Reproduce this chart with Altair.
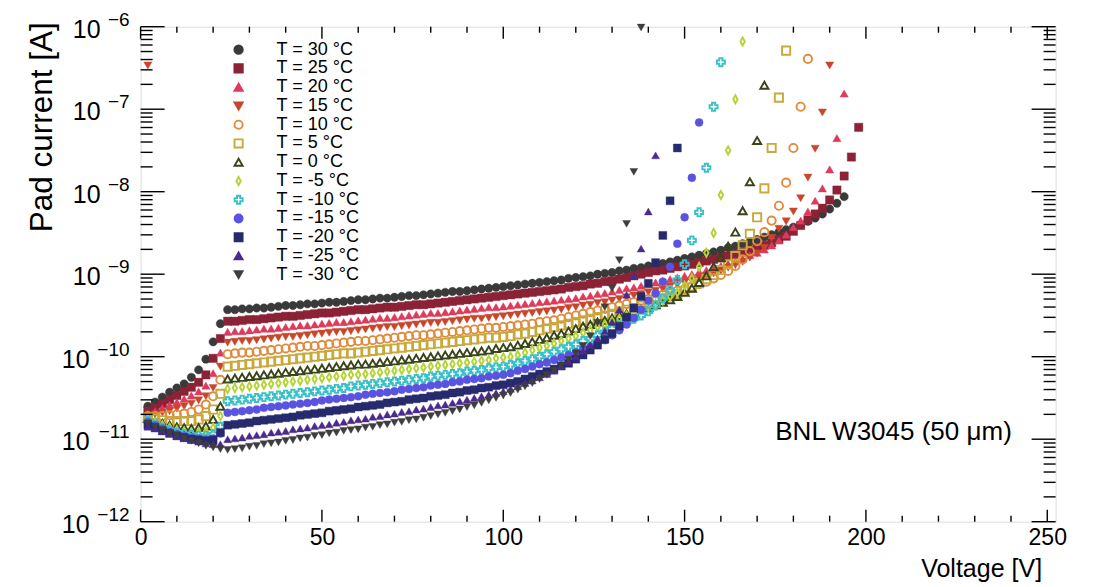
import altair as alt
import pandas as pd

FONT = "Liberation Sans"
W, H = 915, 495

# ---------------- data (log10 of pad current [A]) ----------------
VOLTS = [2, 4, 6, 8, 10, 12, 14, 16, 18, 20, 22, 24, 26, 28, 30, 32, 34, 36, 38, 40,
         42, 44, 46, 48, 50, 52, 54, 56, 58, 60, 62, 64, 66, 68, 70, 72, 74, 76, 78, 80,
         82, 84, 86, 88, 90, 92, 94, 96, 98, 100, 102, 104, 106, 108, 110, 112, 114, 116, 118, 120,
         122, 124, 126, 128, 130, 132, 134, 136, 138, 140, 142, 144, 146, 148, 150, 152, 154, 156, 158, 160,
         162, 164, 166, 168, 170, 172, 174, 176, 178, 180, 182, 184, 186, 188, 190, 192, 194, 196, 198]

SERIES = ["T = 30 °C", "T = 25 °C", "T = 20 °C", "T = 15 °C", "T = 10 °C", "T = 5 °C", "T = 0 °C",
          "T = -5 °C", "T = -10 °C", "T = -15 °C", "T = -20 °C", "T = -25 °C", "T = -30 °C"]

LOG_I_P30 = [-10.60, -10.55, -10.49, -10.43, -10.38, -10.33, -10.25, -10.16, -10.03, -9.82, -9.60,
             -9.43, -9.43, -9.42, -9.42, -9.41, -9.41, -9.40, -9.39, -9.38, -9.38,
             -9.37, -9.36, -9.36, -9.35, -9.34, -9.34, -9.33, -9.32, -9.31, -9.31,
             -9.30, -9.29, -9.29, -9.28, -9.27, -9.26, -9.26, -9.25, -9.24, -9.23,
             -9.22, -9.21, -9.21, -9.20, -9.19, -9.18, -9.17, -9.16, -9.15, -9.14,
             -9.13, -9.12, -9.11, -9.10, -9.09, -9.08, -9.07, -9.05, -9.04, -9.03,
             -9.02, -9.00, -8.99, -8.98, -8.96, -8.95, -8.93, -8.92, -8.90, -8.89,
             -8.87, -8.85, -8.83, -8.81, -8.79, -8.77, -8.75, -8.73, -8.71, -8.68,
             -8.66, -8.63, -8.61, -8.58, -8.55, -8.52, -8.49, -8.46, -8.43, -8.40,
             -8.36, -8.32, -8.27, -8.21, -8.14, -8.06]
LOG_I_P25 = [-10.66, -10.62, -10.57, -10.52, -10.47, -10.42, -10.37, -10.31, -10.22, -10.02, -9.78,
             -9.57, -9.57, -9.56, -9.55, -9.55, -9.54, -9.53, -9.52, -9.51, -9.51,
             -9.50, -9.49, -9.48, -9.47, -9.47, -9.46, -9.45, -9.44, -9.43, -9.43,
             -9.42, -9.41, -9.40, -9.40, -9.39, -9.38, -9.37, -9.37, -9.36, -9.35,
             -9.34, -9.33, -9.32, -9.31, -9.30, -9.29, -9.28, -9.27, -9.26, -9.25,
             -9.24, -9.23, -9.22, -9.21, -9.20, -9.19, -9.18, -9.16, -9.15, -9.14,
             -9.12, -9.11, -9.09, -9.08, -9.06, -9.04, -9.02, -9.00, -8.98, -8.96,
             -8.95, -8.93, -8.91, -8.90, -8.88, -8.86, -8.84, -8.82, -8.80, -8.78,
             -8.76, -8.73, -8.71, -8.68, -8.65, -8.62, -8.58, -8.54, -8.48, -8.41,
             -8.34, -8.27, -8.20, -8.10, -7.98, -7.81, -7.58, -7.22]
LOG_I_P20 = [-10.69, -10.66, -10.62, -10.58, -10.55, -10.51, -10.47, -10.42, -10.35, -10.20, -9.95,
             -9.70, -9.69, -9.69, -9.68, -9.67, -9.66, -9.66, -9.65, -9.64, -9.63,
             -9.62, -9.62, -9.61, -9.60, -9.59, -9.58, -9.58, -9.57, -9.56, -9.55,
             -9.54, -9.53, -9.53, -9.52, -9.51, -9.50, -9.49, -9.48, -9.47, -9.47,
             -9.46, -9.45, -9.44, -9.43, -9.42, -9.41, -9.40, -9.40, -9.39, -9.38,
             -9.37, -9.36, -9.35, -9.34, -9.33, -9.32, -9.31, -9.30, -9.29, -9.27,
             -9.26, -9.24, -9.23, -9.21, -9.19, -9.17, -9.16, -9.14, -9.12, -9.10,
             -9.08, -9.06, -9.04, -9.02, -9.00, -8.97, -8.95, -8.93, -8.90, -8.87,
             -8.84, -8.81, -8.77, -8.74, -8.70, -8.65, -8.59, -8.52, -8.43, -8.35,
             -8.24, -8.11, -7.96, -7.73, -7.35, -6.81]
LOG_I_P15 = [-6.47, -10.70, -10.68, -10.66, -10.63, -10.60, -10.57, -10.53, -10.48, -10.38, -10.12,
             -9.83, -9.82, -9.81, -9.81, -9.80, -9.79, -9.78, -9.77, -9.76, -9.76,
             -9.75, -9.74, -9.73, -9.72, -9.71, -9.70, -9.70, -9.69, -9.68, -9.67,
             -9.66, -9.65, -9.64, -9.64, -9.63, -9.62, -9.61, -9.60, -9.59, -9.59,
             -9.58, -9.57, -9.56, -9.55, -9.54, -9.54, -9.53, -9.52, -9.51, -9.50,
             -9.49, -9.48, -9.47, -9.46, -9.45, -9.44, -9.43, -9.41, -9.40, -9.38,
             -9.37, -9.35, -9.34, -9.32, -9.30, -9.28, -9.26, -9.24, -9.22, -9.20,
             -9.18, -9.15, -9.13, -9.10, -9.08, -9.05, -9.02, -8.99, -8.96, -8.92,
             -8.89, -8.85, -8.80, -8.75, -8.68, -8.56, -8.45, -8.36, -8.24, -8.08,
             -7.83, -7.48, -7.04, -6.47]
LOG_I_P10 = [-10.72, -10.72, -10.72, -10.71, -10.70, -10.69, -10.67, -10.64, -10.58, -10.48, -10.28,
             -9.97, -9.96, -9.95, -9.95, -9.94, -9.93, -9.92, -9.91, -9.90, -9.89,
             -9.88, -9.87, -9.87, -9.86, -9.85, -9.84, -9.83, -9.82, -9.81, -9.81,
             -9.80, -9.79, -9.78, -9.77, -9.76, -9.75, -9.74, -9.74, -9.73, -9.72,
             -9.71, -9.70, -9.69, -9.68, -9.67, -9.66, -9.65, -9.65, -9.64, -9.63,
             -9.62, -9.61, -9.60, -9.58, -9.57, -9.56, -9.54, -9.52, -9.50, -9.48,
             -9.46, -9.44, -9.42, -9.40, -9.38, -9.36, -9.34, -9.32, -9.30, -9.28,
             -9.25, -9.23, -9.20, -9.18, -9.15, -9.12, -9.09, -9.05, -9.01, -8.96,
             -8.90, -8.82, -8.72, -8.60, -8.49, -8.35, -8.17, -7.89, -7.47, -6.97,
             -6.39]
LOG_I_P5 = [-10.74, -10.75, -10.77, -10.78, -10.78, -10.78, -10.78, -10.76, -10.72, -10.64, -10.45,
            -10.12, -10.11, -10.10, -10.09, -10.08, -10.07, -10.06, -10.05, -10.04, -10.03,
            -10.02, -10.01, -10.00, -9.99, -9.98, -9.97, -9.96, -9.96, -9.95, -9.94,
            -9.93, -9.92, -9.91, -9.90, -9.89, -9.88, -9.87, -9.86, -9.85, -9.84,
            -9.83, -9.82, -9.81, -9.80, -9.79, -9.78, -9.77, -9.77, -9.76, -9.75,
            -9.73, -9.72, -9.70, -9.68, -9.66, -9.64, -9.62, -9.60, -9.58, -9.56,
            -9.54, -9.52, -9.50, -9.48, -9.45, -9.43, -9.41, -9.38, -9.36, -9.33,
            -9.30, -9.27, -9.24, -9.20, -9.16, -9.11, -9.06, -9.01, -8.95, -8.88,
            -8.78, -8.65, -8.51, -8.31, -7.96, -7.47, -6.86, -6.29]
LOG_I_0 = [-10.75, -10.78, -10.81, -10.83, -10.85, -10.86, -10.87, -10.86, -10.84, -10.76, -10.60,
           -10.27, -10.26, -10.25, -10.24, -10.23, -10.22, -10.21, -10.20, -10.19, -10.18,
           -10.17, -10.16, -10.15, -10.14, -10.13, -10.12, -10.11, -10.10, -10.09, -10.09,
           -10.08, -10.07, -10.06, -10.05, -10.04, -10.03, -10.02, -10.01, -10.00, -9.99,
           -9.98, -9.97, -9.96, -9.95, -9.94, -9.93, -9.92, -9.90, -9.89, -9.88,
           -9.86, -9.84, -9.82, -9.79, -9.77, -9.74, -9.72, -9.69, -9.66, -9.63,
           -9.61, -9.58, -9.56, -9.53, -9.50, -9.48, -9.45, -9.42, -9.40, -9.37,
           -9.34, -9.31, -9.27, -9.22, -9.17, -9.10, -9.02, -8.91, -8.80, -8.66,
           -8.49, -8.23, -7.88, -7.38, -6.71]
LOG_I_M5 = [-10.75, -10.79, -10.83, -10.86, -10.89, -10.91, -10.92, -10.92, -10.91, -10.86, -10.72,
            -10.39, -10.38, -10.37, -10.36, -10.35, -10.34, -10.33, -10.32, -10.31, -10.30,
            -10.29, -10.28, -10.27, -10.26, -10.25, -10.24, -10.23, -10.22, -10.22, -10.21,
            -10.20, -10.19, -10.18, -10.17, -10.16, -10.15, -10.14, -10.13, -10.12, -10.11,
            -10.10, -10.09, -10.08, -10.07, -10.06, -10.05, -10.04, -10.02, -10.01, -10.00,
            -9.98, -9.95, -9.92, -9.89, -9.87, -9.84, -9.81, -9.78, -9.75, -9.71,
            -9.68, -9.64, -9.61, -9.57, -9.54, -9.50, -9.47, -9.43, -9.40, -9.36,
            -9.32, -9.27, -9.22, -9.14, -9.05, -8.91, -8.74, -8.50, -8.04, -7.50,
            -6.88, -6.18]
LOG_I_M10 = [-10.78, -10.82, -10.86, -10.89, -10.92, -10.94, -10.95, -10.96, -10.96, -10.94, -10.85,
             -10.54, -10.53, -10.52, -10.51, -10.50, -10.49, -10.48, -10.47, -10.46, -10.45,
             -10.44, -10.43, -10.42, -10.41, -10.40, -10.39, -10.38, -10.36, -10.35, -10.34,
             -10.33, -10.32, -10.31, -10.30, -10.29, -10.28, -10.27, -10.26, -10.24, -10.23,
             -10.22, -10.21, -10.20, -10.18, -10.17, -10.16, -10.14, -10.13, -10.12, -10.10,
             -10.08, -10.05, -10.03, -10.00, -9.97, -9.94, -9.91, -9.88, -9.85, -9.81,
             -9.78, -9.74, -9.70, -9.66, -9.62, -9.58, -9.54, -9.50, -9.45, -9.38,
             -9.29, -9.19, -9.07, -8.88, -8.59, -8.25, -7.71, -6.97, -6.43]
LOG_I_M15 = [-10.79, -10.83, -10.87, -10.91, -10.94, -10.96, -10.98, -10.99, -11.00, -10.99, -10.93,
             -10.68, -10.67, -10.66, -10.65, -10.64, -10.62, -10.61, -10.60, -10.59, -10.58,
             -10.57, -10.56, -10.55, -10.53, -10.52, -10.51, -10.50, -10.49, -10.48, -10.46,
             -10.45, -10.44, -10.43, -10.42, -10.40, -10.39, -10.38, -10.37, -10.35, -10.34,
             -10.33, -10.31, -10.30, -10.28, -10.27, -10.26, -10.24, -10.23, -10.22, -10.20,
             -10.17, -10.15, -10.12, -10.09, -10.07, -10.04, -10.01, -9.98, -9.95, -9.91,
             -9.88, -9.84, -9.80, -9.74, -9.68, -9.61, -9.53, -9.43, -9.32, -9.23,
             -9.09, -8.91, -8.63, -8.31, -7.83, -7.16]
LOG_I_M20 = [-10.83, -10.86, -10.90, -10.93, -10.96, -10.98, -11.00, -11.01, -11.02, -11.01, -10.92,
             -10.83, -10.82, -10.81, -10.80, -10.78, -10.77, -10.76, -10.75, -10.74, -10.73,
             -10.71, -10.70, -10.69, -10.68, -10.66, -10.65, -10.64, -10.63, -10.61, -10.60,
             -10.59, -10.58, -10.56, -10.55, -10.54, -10.52, -10.51, -10.50, -10.48, -10.47,
             -10.46, -10.44, -10.43, -10.41, -10.40, -10.38, -10.37, -10.35, -10.34, -10.32,
             -10.30, -10.27, -10.24, -10.21, -10.18, -10.15, -10.11, -10.08, -10.03, -9.98,
             -9.92, -9.86, -9.79, -9.72, -9.63, -9.52, -9.41, -9.27, -9.11, -8.86,
             -8.53, -8.11, -7.47]
LOG_I_M25 = [-10.85, -10.87, -10.90, -10.93, -10.96, -10.99, -11.01, -11.03, -11.05, -11.06, -11.06,
             -11.00, -10.99, -10.98, -10.96, -10.95, -10.94, -10.92, -10.91, -10.90, -10.88,
             -10.87, -10.86, -10.84, -10.83, -10.82, -10.80, -10.79, -10.77, -10.76, -10.75,
             -10.73, -10.72, -10.70, -10.69, -10.67, -10.66, -10.64, -10.63, -10.61, -10.59,
             -10.58, -10.56, -10.54, -10.52, -10.50, -10.48, -10.46, -10.44, -10.42, -10.39,
             -10.36, -10.32, -10.29, -10.25, -10.21, -10.17, -10.12, -10.06, -10.00, -9.93,
             -9.86, -9.78, -9.69, -9.58, -9.43, -9.25, -9.02, -8.69, -8.24, -7.56]
LOG_I_M30 = [-10.81, -10.85, -10.89, -10.93, -10.96, -10.99, -11.02, -11.05, -11.08, -11.10, -11.12,
             -11.13, -11.12, -11.11, -11.09, -11.08, -11.06, -11.05, -11.04, -11.02, -11.01,
             -10.99, -10.98, -10.96, -10.95, -10.93, -10.92, -10.90, -10.89, -10.88, -10.86,
             -10.85, -10.83, -10.82, -10.80, -10.79, -10.77, -10.76, -10.74, -10.72, -10.70,
             -10.68, -10.66, -10.64, -10.61, -10.59, -10.56, -10.53, -10.50, -10.47, -10.44,
             -10.40, -10.36, -10.32, -10.27, -10.22, -10.17, -10.11, -10.04, -9.96, -9.87,
             -9.75, -9.59, -9.40, -9.17, -8.83, -8.39, -7.76, -6.01]

LOG_I = [LOG_I_P30, LOG_I_P25, LOG_I_P20, LOG_I_P15, LOG_I_P10, LOG_I_P5, LOG_I_0,
         LOG_I_M5, LOG_I_M10, LOG_I_M15, LOG_I_M20, LOG_I_M25, LOG_I_M30]

X_LABELS = [0, 50, 100, 150, 200, 250]
X_MINOR = [10, 20, 30, 40, 60, 70, 80, 90, 110, 120, 130, 140, 160, 170, 180, 190, 210, 220, 230, 240]
Y_EXPONENTS = [-6, -7, -8, -9, -10, -11, -12]
ANNOTATION = "BNL W3045 (50 μm)"
ANNOT_POS = {"V": 175.0, "I": 1.23e-11}

# ---------------- styles ----------------
COLORS = ["#3a3a3a", "#8b2236", "#dc3b5c", "#c8472c", "#e08a3c", "#c7a93c", "#39441a",
          "#b5d334", "#3cc0c8", "#5a53e0", "#272a6d", "#4b2a8d", "#3e3e3e"]
THIN_DIAMOND = "M0,-1L0.55,0L0,1L-0.55,0Z"
SHAPES = ["circle", "square", "triangle-up", "triangle-down", "circle", "square", "triangle-up",
          THIN_DIAMOND, "cross", "circle", "square", "triangle-up", "triangle-down"]
OPEN_SERIES = ["T = 10 °C", "T = 5 °C", "T = 0 °C", "T = -5 °C", "T = -10 °C"]
FILLS = ["transparent" if s in OPEN_SERIES else c for s, c in zip(SERIES, COLORS)]
SIZES = [70, 62, 88, 88, 64, 60, 88, 104, 92, 70, 62, 88, 88]

# ---------------- tables ----------------
rows = []
for k, (name, vals) in enumerate(zip(SERIES, LOG_I)):
    for v, li in zip(VOLTS, vals):
        rows.append({"series": name, "V": v, "I": 10.0 ** li, "ord": k})
df = pd.DataFrame(rows)

xs = alt.Scale(domain=[0, 252.3], nice=False, zero=False)
ys = alt.Scale(type="log", domain=[1e-12, 1e-6], nice=False)

XAXIS = alt.Axis(values=X_LABELS, ticks=False, domain=False, grid=False, labelFont=FONT,
                 labelFontSize=23, labelColor="black", labelPadding=5, labelFlush=False,
                 title="Voltage [V]", titleFont=FONT, titleFontSize=25, titleFontWeight="normal",
                 titleColor="black", titleAlign="right", titleBaseline="alphabetic",
                 titleX=901, titleY=55)
YAXIS = alt.Axis(labels=False, ticks=False, domain=False, grid=False,
                 title="Pad current [A]", titleFont=FONT, titleFontSize=31.5, titleFontWeight="normal",
                 titleColor="black", titleAngle=270, titleAlign="right", titleBaseline="alphabetic",
                 titleX=-89, titleY=-5)

X = lambda: alt.X("V:Q", scale=xs, axis=XAXIS)
Y = lambda: alt.Y("I:Q", scale=ys, axis=YAXIS)

leg = alt.Legend(title=None, orient="none", legendX=89, legendY=14, padding=0,
                 labelFont=FONT, labelFontSize=18, labelColor="black", rowPadding=0.75,
                 labelOffset=29, symbolStrokeWidth=1.9)
open_test = "indexof(" + str(OPEN_SERIES) + ", datum.series) >= 0"
points = alt.Chart(df).mark_point(filled=True, opacity=1).encode(
    x=X(), y=Y(),
    shape=alt.Shape("series:N", scale=alt.Scale(domain=SERIES, range=SHAPES), legend=leg),
    fill=alt.Fill("series:N", scale=alt.Scale(domain=SERIES, range=FILLS), legend=leg),
    stroke=alt.Stroke("series:N", scale=alt.Scale(domain=SERIES, range=COLORS), legend=leg),
    size=alt.Size("series:N", scale=alt.Scale(domain=SERIES, range=SIZES), legend=leg),
    strokeWidth=alt.condition(open_test, alt.value(1.9), alt.value(0.4)),
    order=alt.Order("ord:Q"),
)

# ticks (ROOT style, inward, on all four sides)
xmaj = pd.DataFrame({"V": X_LABELS})
xmin = pd.DataFrame({"V": X_MINOR})
ydec = pd.DataFrame({"I": [10.0 ** e for e in Y_EXPONENTS]})
ymin = pd.DataFrame({"I": [m * 10.0 ** e for e in Y_EXPONENTS[1:] for m in range(2, 10)]})

def xticks(d, length):
    b = alt.Chart(d).mark_rule(color="black", strokeWidth=1.4).encode(
        x=X(), y=alt.value(H), y2=alt.value(H - length))
    t = alt.Chart(d).mark_rule(color="black", strokeWidth=1.4).encode(
        x=X(), y=alt.value(0), y2=alt.value(length))
    return [b, t]

def yticks(d, length):
    l = alt.Chart(d).mark_rule(color="black", strokeWidth=1.4).encode(
        y=Y(), x=alt.value(0), x2=alt.value(length))
    r = alt.Chart(d).mark_rule(color="black", strokeWidth=1.4).encode(
        y=Y(), x=alt.value(W), x2=alt.value(W - length))
    return [l, r]

# y tick labels: "10" with superscript exponent
ylab = pd.DataFrame({"I": [10.0 ** e for e in Y_EXPONENTS],
                     "base": ["10"] * len(Y_EXPONENTS),
                     "sup": ["\u2212" + str(-e) for e in Y_EXPONENTS],
                     "nd": [len(str(-e)) for e in Y_EXPONENTS]})
base1 = alt.Chart(ylab).transform_filter("datum.nd == 1").mark_text(
    align="right", baseline="middle", font=FONT, fontSize=25, color="black", dy=3).encode(
    y=Y(), x=alt.value(-40), text="base:N")
base2 = alt.Chart(ylab).transform_filter("datum.nd == 2").mark_text(
    align="right", baseline="middle", font=FONT, fontSize=25, color="black", dy=3).encode(
    y=Y(), x=alt.value(-51), text="base:N")
sups = alt.Chart(ylab).mark_text(
    align="right", baseline="middle", font=FONT, fontSize=19, color="black", dy=-7).encode(
    y=Y(), x=alt.value(-11), text="sup:N")

annot = alt.Chart(pd.DataFrame([{"V": ANNOT_POS["V"], "I": ANNOT_POS["I"], "t": ANNOTATION}])).mark_text(
    align="left", baseline="middle", font=FONT, fontSize=26, color="black").encode(
    x=X(), y=Y(), text="t:N")

layers = [points] + xticks(xmaj, 12) + xticks(xmin, 6) + yticks(ydec, 24) + yticks(ymin, 12) + [base1, base2, sups, annot]

chart = alt.layer(*layers).properties(
    width=W, height=H,
    padding={"left": 140.6, "top": 26.7, "right": 39.4, "bottom": 65.3},
    autosize=alt.AutoSizeParams(type="none"),
).configure_view(stroke="black", strokeWidth=1.8).configure(background="white")

chart.save("out.html", embed_options={"renderer": "svg", "actions": False})
